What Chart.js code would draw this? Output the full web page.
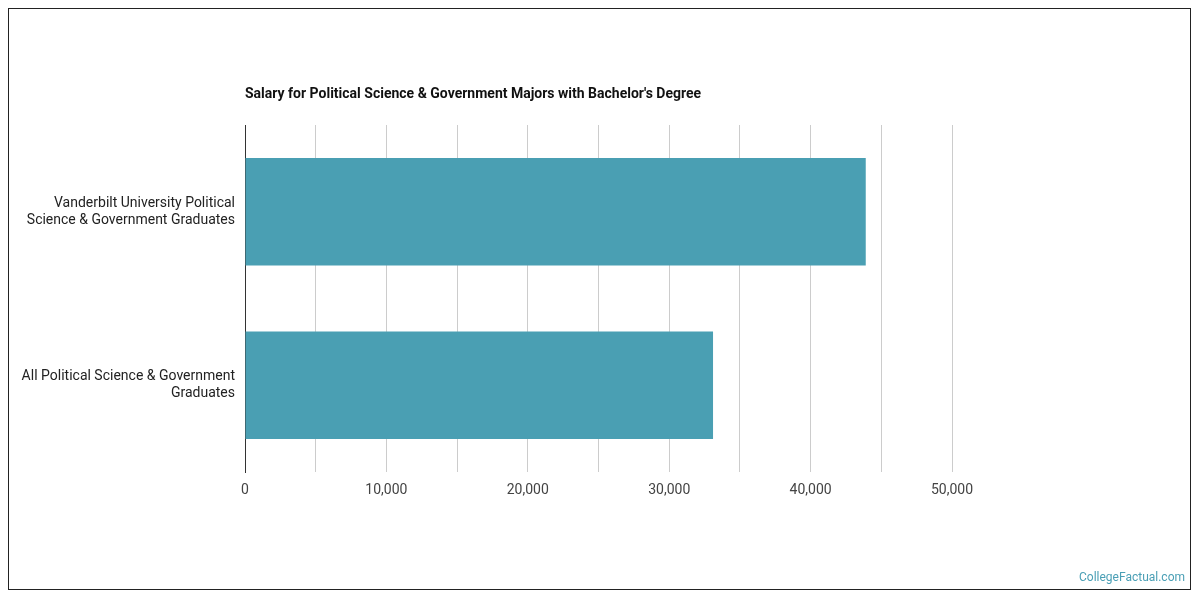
<!DOCTYPE html>
<html>
<head>
<meta charset="utf-8">
<script src="https://cdn.jsdelivr.net/npm/chart.js@4"></script>
<style>body{margin:0;background:#fff}</style>
</head>
<body>
<canvas id="c" width="1200" height="600"></canvas>
<script>
// chart data
const categories = [
  ['Vanderbilt University Political', 'Science & Government Graduates'],
  ['All Political Science & Government', 'Graduates']
];
const salaries = [43900, 33100];
const titleText = "Salary for Political Science & Government Majors with Bachelor's Degree";

// frame, title and watermark
const decor = {
  id: 'decor',
  afterDraw(chart) {
    const ctx = chart.ctx;
    ctx.save();
    ctx.strokeStyle = '#222';
    ctx.lineWidth = 1;
    ctx.strokeRect(8.5, 8.5, 1182, 581);
    ctx.fillStyle = '#111';
    ctx.font = 'bold 14px Roboto';
    ctx.textBaseline = 'middle';
    ctx.fillText(titleText, chart.chartArea.left, 94);
    ctx.fillStyle = '#4a9fb5';
    ctx.font = '12px Roboto';
    ctx.textAlign = 'right';
    ctx.fillText('CollegeFactual.com', 1185, 578);
    ctx.restore();
  }
};

new Chart(document.getElementById('c'), {
  type: 'bar',
  data: {
    labels: categories,
    datasets: [{
      data: salaries,
      backgroundColor: '#4a9fb3',
      barPercentage: 1,
      categoryPercentage: 0.62
    }]
  },
  options: {
    indexAxis: 'y',
    responsive: false,
    animation: false,
    layout: { padding: { top: 125, right: 248, bottom: 88, left: 0 } },
    plugins: { legend: { display: false }, tooltip: { enabled: false } },
    scales: {
      x: {
        min: 0, max: 50000,
        ticks: {
          stepSize: 5000,
          color: '#444',
          font: { family: 'Roboto', size: 14 },
          padding: 10,
          callback: v => v % 10000 === 0 ? v.toLocaleString('en-US') : ''
        },
        grid: { color: '#cccccc', drawTicks: false },
        border: { display: false },
        afterFit(s) { s.height = 40; }
      },
      y: {
        ticks: { color: '#222', font: { family: 'Roboto', size: 14 }, padding: 2 },
        grid: { display: false },
        border: { color: '#333' },
        afterFit(s) { s.width = 245; }
      }
    }
  },
  plugins: [decor]
});
</script>
</body>
</html>
